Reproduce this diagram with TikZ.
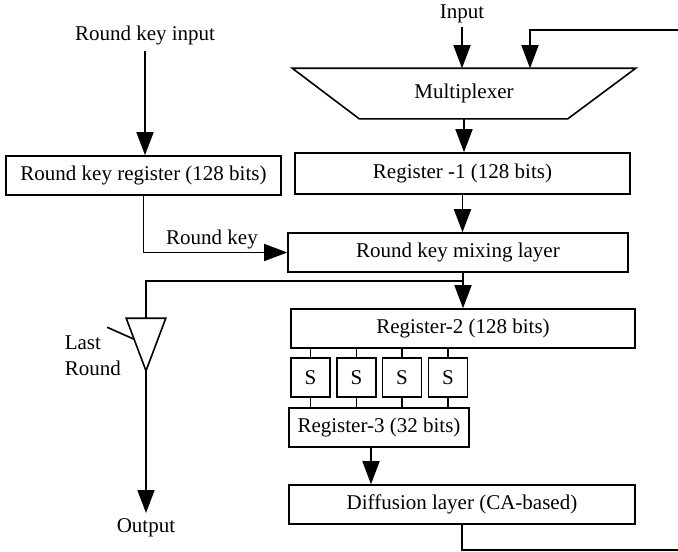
\documentclass[tikz,border=0pt]{standalone}
\usepackage{fontspec}
\setmainfont{Liberation Serif}
\usetikzlibrary{arrows.meta,calc}
\begin{document}
\begin{tikzpicture}[x=1pt,y=-1pt,
  font=\fontsize{21}{26}\selectfont,
  line width=1.6pt,
  box/.style={draw, rectangle, inner sep=0pt, minimum height=39pt},
  arr/.style={-{Triangle[length=23pt,width=17pt]}},
  lbl/.style={inner sep=3pt}]
\useasboundingbox (0,0) rectangle (678,552);

% texts
\node[lbl] (input) at (462,14) {Input};
\node[lbl, inner sep=5pt] (rkin) at (145,35.5) {Round key input};
\node[lbl, inner sep=5pt] (out) at (146,528) {Output};
\node[lbl, inner sep=0pt] (rklbl) at (212,239) {Round key};
\node[lbl, inner sep=0pt, align=left, anchor=west] (lr) at (64,356) {Last\\Round};

% multiplexer
\node[inner sep=0pt, minimum width=342pt, minimum height=49pt] (mux) at (464,93.5) {Multiplexer};
\draw (mux.north west) -- (mux.north east) -- ([xshift=-68pt]mux.south east)
      -- ([xshift=67pt]mux.south west) -- cycle;

% boxes
\node[box, minimum width=275pt] (rkreg) at (143.5,175.5) {Round key register (128 bits)};
\node[box, minimum width=335pt, minimum height=41pt] (reg1) at (462.5,173.5) {Register -1 (128 bits)};
\node[box, minimum width=340pt] (mix) at (458,252.5) {Round key mixing layer};
\node[box, minimum width=344pt] (reg2) at (463,328.5) {Register-2 (128 bits)};
\node[box, minimum width=39pt] (s1) at (310.5,377.5) {S};
\node[box, minimum width=39pt] (s2) at (356.5,377.5) {S};
\node[box, minimum width=39pt] (s3) at (402,377.5) {S};
\node[box, minimum width=39pt] (s4) at (448,377.5) {S};
\node[box, minimum width=180pt] (reg3) at (379,427.5) {Register-3 (32 bits)};
\node[box, minimum width=346pt] (diff) at (462,504.5) {Diffusion layer (CA-based)};

% last-round buffer (triangle)
\node[inner sep=0pt, minimum width=38pt, minimum height=51pt] (tri) at (146,344.5) {};
\draw (tri.north west) -- (tri.north east) -- (tri.south) -- cycle;
\coordinate (ctl) at ($(tri.north west)!0.4!(tri.south)$);
\draw (ctl) -- ++(-27,-12);

% feedback ends
\coordinate (fbin) at (678,30);
\coordinate (fbout) at (678,550);
\coordinate (br) at (463,281);

% connectors
\draw[arr] (input.south) -- (input.south |- mux.north);
\draw[arr] (fbin) -| ([xshift=66pt]mux.north);
\draw[arr] (mux.south) -- (mux.south |- reg1.north);
\draw[arr] (rkin.south) -- (rkin.south |- rkreg.north);
\draw[arr] (reg1.south) -- (reg1.south |- mix.north);
\draw[arr] (rkreg.south) |- (mix.west);
\draw[arr] (reg2.north |- mix.south) -- (reg2.north);
\draw (br) -| (tri.north);
\draw[arr] (tri.south) -- (out.north);
\foreach \s in {s1,s2,s3,s4}{
  \draw (\s.north) -- (\s.north |- reg2.south);
  \draw (\s.south) -- (\s.south |- reg3.north);
}
\draw[arr] ([xshift=-8pt]reg3.south) -- ([xshift=-8pt]reg3.south |- diff.north);
\draw (diff.south) |- (fbout);
\end{tikzpicture}
\end{document}
